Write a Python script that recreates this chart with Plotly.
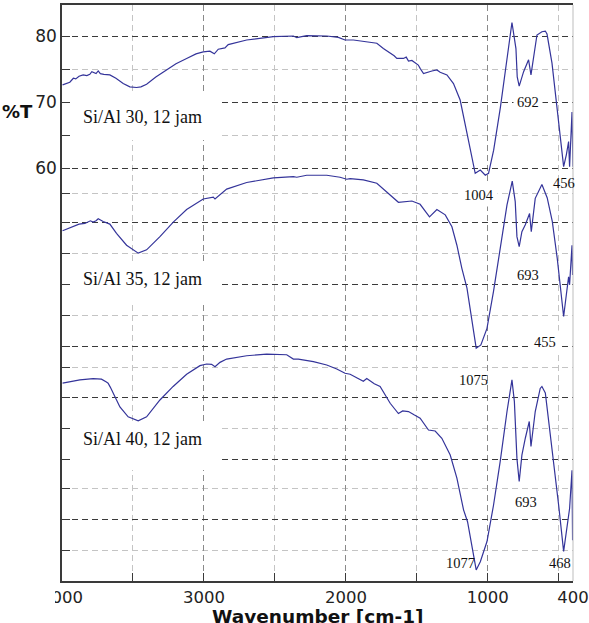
import plotly.graph_objects as go

# ---- data ----
wn30 = [3996,3945,3920,3903,3880,3851,3825,3804,3790,3776,3760,3745,3730,3705,3663,3620,3569,3522,3475,3444,3404,3339,3263,3197,3122,3056,
        3005,2958,2927,2899,2852,2829,2699,2511,2370,2346,2276,2135,2053,2006,1947,1853,1782,1736,1700,1688,1660,1641,
        1595,1575,1559,1535,1512,1490,1477,1453,1394,1359,1336,1288,1242,1195,1147,1124,1089,1053,1018,995,959,912,865,
        830,802,793,779,748,713,696,654,619,595,583,548,513,478,466,447,431,424,407,400]
t30 = [72.6,73.0,73.6,73.5,73.9,74.1,74.0,74.2,74.6,74.4,74.3,74.7,74.3,74.2,74.1,73.6,72.8,72.3,72.2,72.3,72.7,73.8,74.85,75.8,76.6,77.3,
       77.6,77.7,77.3,78.0,78.2,78.7,79.4,79.9,80.0,79.75,80.05,80.0,79.8,79.4,79.4,79.1,78.9,78.1,77.6,77.4,77.0,76.6,
       76.6,76.8,76.2,76.3,75.9,75.6,75.1,74.3,74.7,74.85,74.5,74.1,72.8,70.3,65.3,63.0,59.2,59.7,58.9,59.2,62.7,69.1,76.1,
       82.05,78.1,73.8,72.4,74.6,76.4,74.1,80.15,80.65,80.75,80.3,75.9,69.4,63.2,60.2,62.0,64.0,60.2,68.5,60.2]

wn35 = [3996,3922,3880,3839,3800,3781,3760,3745,3710,3663,3616,3545,3463,3404,3310,3216,3122,3005,2934,2922,2875,2840,2699,
        2511,2370,2346,2276,2135,2041,1994,1970,1877,1782,1688,1630,1535,1477,1411,1359,1300,1253,1218,1183,
        1147,1119,1082,1049,1006,960,913,865,828,807,795,779,760,736,706,694,666,619,582,546,
        511,466,447,431,424,407,403]
t35 = [50.5,51.1,51.5,51.6,52.0,51.8,52.0,52.3,51.9,51.5,50.1,48.3,47.1,47.6,49.6,51.8,53.7,55.3,55.6,55.3,56.2,56.8,57.8,
       58.5,58.7,58.6,58.9,58.9,58.6,58.3,58.4,58.2,57.7,55.9,54.8,55.0,54.5,52.6,53.7,52.9,51.1,48.3,44.8,
       41.8,37.7,32.7,33.2,35.7,41.3,47.8,54.4,58.0,54.9,49.6,48.1,50.35,51.4,53.1,50.35,55.4,57.5,55.5,51.9,
       46.3,37.5,40.8,43.5,42.3,48.3,43.8]

wn40 = [3996,3874,3781,3722,3690,3675,3660,3640,3592,3534,3463,3404,3310,3217,3122,3028,2981,2946,2922,2887,2840,2699,
        2558,2417,2370,2335,2229,2135,2064,2006,1970,1877,1853,1800,1759,1688,1630,1600,1559,1520,1477,1418,1371,1324,1265,
        1218,1171,1143,1112,1082,1053,1006,960,913,865,830,813,795,779,760,736,708,696,666,631,
        619,595,565,532,501,466,447,424,407,403]
t40 = [27.4,27.9,28.1,28.0,27.6,27.4,26.8,25.9,23.8,22.3,21.7,22.3,24.85,26.9,28.75,30.05,30.3,30.25,29.9,30.55,31.05,31.55,
       31.8,31.7,31.05,31.05,30.65,30.15,29.55,28.9,28.75,27.7,28.1,27.3,26.9,24.35,22.8,23.2,23.1,22.6,22.1,20.3,20.15,19.05,16.5,
       13.0,8.2,6.4,2.9,-0.9,0.35,3.4,8.9,15.5,23.1,27.9,24.6,16.0,12.5,16.5,19.05,21.6,17.8,23.1,26.6,
       26.9,25.9,20.55,14.0,8.9,1.9,4.9,8.4,14.2,3.6]

x_tickvals = [4000, 3000, 2000, 1000, 400]
x_ticktext = ["4000", "3000", "2000", "1000", "400"]
x_minor = [3500, 2500, 1500, 500]
y_major = [80, 70, 60, 51.7, 42.3, 33.0, 25.2, 15.9, 6.7]
y_major_text = ["80", "70", "60", "", "", "", "", "", ""]
y_minor = [75, 65, 56.2, 47.0, 37.6, 29.7, 20.5, 11.4, 2.1]

series_labels = ["Si/Al 30, 12 jam", "Si/Al 35, 12 jam", "Si/Al 40, 12 jam"]
peak_labels = ["692", "456", "1004", "693", "455", "1075", "693", "1077", "468"]

LINE = "#34349a"
DARK = "#3a3a3a"
LIGHT = "#c4c4c4"

fig = go.Figure()
for wn, t in [(wn30, t30), (wn35, t35), (wn40, t40)]:
    fig.add_trace(go.Scatter(x=wn, y=t, mode="lines", line=dict(color=LINE, width=1.2),
                             showlegend=False, hoverinfo="skip"))

fig.update_layout(
    width=589, height=623,
    margin=dict(l=62, r=16, t=5, b=42, autoexpand=False),
    paper_bgcolor="white", plot_bgcolor="white",
    xaxis=dict(range=[4000, 400], tickmode="array", tickvals=x_tickvals, ticktext=x_ticktext,
               ticks="inside", ticklen=8, tickcolor=DARK, tickwidth=1,
               showline=True, linecolor=DARK, linewidth=1.5, mirror=True,
               showgrid=True, gridcolor="#8a8a8a", griddash="6px,4px", gridwidth=1,
               zeroline=False, automargin=False, ticklabeloverflow="allow",
               tickfont=dict(family="DejaVu Sans", size=16.5, color="#222"),
               minor=dict(tickmode="array", tickvals=x_minor, ticks="inside", ticklen=8,
                          tickcolor=DARK, showgrid=True, gridcolor=LIGHT, griddash="6px,4px")),
    yaxis=dict(range=[-2.58, 84.7], tickmode="array", tickvals=y_major, ticktext=y_major_text,
               ticks="inside", ticklen=8, tickcolor=DARK, tickwidth=1,
               showline=True, linecolor=DARK, linewidth=1.5, mirror=False,
               showgrid=True, gridcolor=DARK, griddash="6px,4px", gridwidth=1,
               zeroline=False, automargin=False,
               tickfont=dict(family="DejaVu Sans", size=17, color="#222"),
               minor=dict(tickmode="array", tickvals=y_minor, ticks="inside", ticklen=8,
                          tickcolor=DARK, showgrid=True, gridcolor=LIGHT, griddash="6px,4px")),
)

def px(x):
    return (x - 62) / 511.0

def py(y):
    return (581 - y) / 576.0

shapes = []
# right border
shapes.append(dict(type="line", xref="paper", yref="paper", x0=1, x1=1, y0=0, y1=1,
                   line=dict(color="#bdbdbd", width=1), layer="above"))
# white boxes behind series labels (cover gridlines)
for y0, y1 in [(140, 95), (305, 262), (470, 425)]:
    shapes.append(dict(type="rect", xref="paper", yref="paper", x0=px(70), x1=px(222),
                       y0=py(y0), y1=py(y1), fillcolor="white", line=dict(width=0), layer="above"))
# the "4" of the first tick label is cut off in the reference
shapes.append(dict(type="rect", xref="paper", yref="paper", x0=px(30), x1=px(55),
                   y0=py(612), y1=py(586), fillcolor="white", line=dict(width=0), layer="above"))
fig.update_layout(shapes=shapes)

ann = []
serif = dict(family="Liberation Serif", size=18, color="#111")
for lab, yy in zip(series_labels, [117, 279, 439]):
    ann.append(dict(text=lab, xref="paper", yref="paper", x=px(81), y=py(yy), xanchor="left",
                    yanchor="middle", showarrow=False, font=serif))

peak_pos = [(528, 102, True), (564, 183, False), (479, 195, True), (528, 275, False),
            (545, 342, True), (473.5, 380, False), (526, 502, False), (460, 563, False), (560, 563, False)]
pfont = dict(family="Liberation Serif", size=14.5, color="#111")
for lab, (xx, yy, bg) in zip(peak_labels, peak_pos):
    a = dict(text=lab, xref="paper", yref="paper", x=px(xx), y=py(yy), xanchor="center",
             yanchor="middle", showarrow=False, font=pfont)
    if bg:
        a["bgcolor"] = "white"
        a["borderpad"] = 3
    ann.append(a)

ann.append(dict(text="<b>%T</b>", xref="paper", yref="paper", x=px(17), y=py(112), xanchor="center",
                yanchor="middle", showarrow=False, font=dict(family="DejaVu Sans", size=18, color="#111")))
ann.append(dict(text="<b>Wavenumber [cm-1]</b>", xref="paper", yref="paper", x=px(318), y=py(616),
                xanchor="center", yanchor="middle", showarrow=False,
                font=dict(family="DejaVu Sans", size=18.5, color="#111")))
fig.update_layout(annotations=ann)

fig.write_html("out.html")
